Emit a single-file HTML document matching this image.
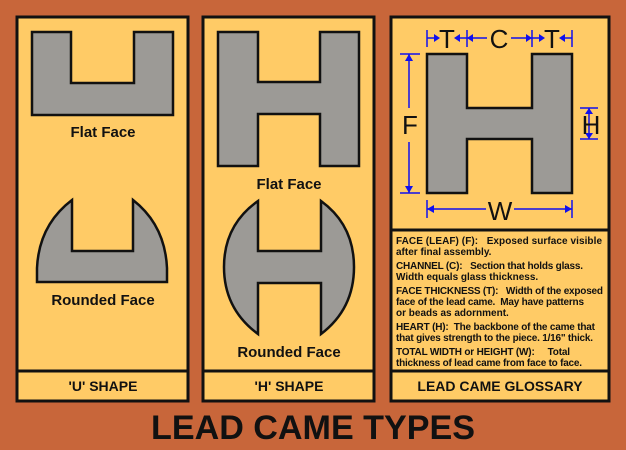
<!DOCTYPE html>
<html><head><meta charset="utf-8"><style>
html,body{margin:0;padding:0;background:#C8663A;}
svg{display:block}
text{font-family:"Liberation Sans",Arial,sans-serif;font-weight:bold;fill:#111;white-space:pre}
</style></head><body>
<svg width="626" height="450" viewBox="0 0 626 450" xmlns="http://www.w3.org/2000/svg" xml:space="preserve">
<rect x="0" y="0" width="626" height="450" fill="#C8663A"/>
<g fill="#FFCB66" stroke="#111" stroke-width="3">
<rect x="17" y="17" width="171" height="384"/>
<rect x="203" y="17" width="171" height="384"/>
<rect x="391" y="17" width="218" height="384"/>
</g>
<g stroke="#111" stroke-width="3">
<line x1="17" y1="371" x2="188" y2="371"/>
<line x1="203" y1="371" x2="374" y2="371"/>
<line x1="391" y1="371" x2="609" y2="371"/>
<line x1="391" y1="230" x2="609" y2="230"/>
</g>
<g fill="#9C9A96" stroke="#111" stroke-width="2.5" stroke-linejoin="miter">
<path d="M32 32 H71 V83 H134 V32 H173 V115 H32 Z"/>
<path d="M72 200 V251 H133 V200 Q165 225 167 268 V282 H37 V268 Q39 225 72 200 Z"/>
<path d="M218 32 H258 V82 H320 V32 H359 V166 H320 V114 H258 V166 H218 Z"/>
<path d="M258 201 V251 H321 V201 Q354 225 354 267 Q354 309 321 334 V283 H258 V334 Q224 309 224 267 Q224 225 258 201 Z"/>
<path d="M427 54 H467 V108 H532 V54 H572 V193 H532 V139 H467 V193 H427 Z"/>
</g>
<g font-size="15" text-anchor="middle">
<text x="103" y="137">Flat Face</text>
<text x="103" y="305">Rounded Face</text>
<text x="289" y="189">Flat Face</text>
<text x="289" y="357">Rounded Face</text>
<text x="103" y="391" font-size="14">'U' SHAPE</text>
<text x="289" y="391" font-size="14">'H' SHAPE</text>
<text x="500" y="391" font-size="14">LEAD CAME GLOSSARY</text>
</g>
<text x="313" y="439" font-size="34" text-anchor="middle" textLength="324" lengthAdjust="spacingAndGlyphs">LEAD CAME TYPES</text>
<g stroke="#1010ee" stroke-width="1.5" fill="none">
<line x1="427" y1="30" x2="427" y2="47"/><line x1="467" y1="30" x2="467" y2="47"/>
<line x1="532" y1="30" x2="532" y2="47"/><line x1="572" y1="30" x2="572" y2="47"/>
<line x1="427" y1="38" x2="434" y2="38"/><line x1="460" y1="38" x2="467" y2="38"/>
<line x1="467" y1="38" x2="487" y2="38"/><line x1="511" y1="38" x2="532" y2="38"/>
<line x1="532" y1="38" x2="539" y2="38"/><line x1="565" y1="38" x2="572" y2="38"/>
<line x1="400" y1="54" x2="420" y2="54"/><line x1="400" y1="193" x2="420" y2="193"/>
<line x1="409" y1="54" x2="409" y2="108"/><line x1="409" y1="142" x2="409" y2="193"/>
<line x1="580" y1="108" x2="598" y2="108"/><line x1="580" y1="139" x2="598" y2="139"/>
<line x1="589" y1="108" x2="589" y2="139"/>
<line x1="427" y1="200" x2="427" y2="218"/><line x1="572" y1="200" x2="572" y2="218"/>
<line x1="427" y1="209" x2="486" y2="209"/><line x1="514" y1="209" x2="572" y2="209"/>
</g>
<g fill="#1010ee">
<path d="M434 34 L440 38 L434 42Z"/><path d="M460 34 L454 38 L460 42Z"/>
<path d="M467 38 L473 34 L473 42Z"/><path d="M532 38 L526 34 L526 42Z"/>
<path d="M539 34 L545 38 L539 42Z"/><path d="M565 34 L559 38 L565 42Z"/>
<path d="M409 54 L405 61 L413 61Z"/><path d="M409 193 L405 186 L413 186Z"/>
<path d="M589 108 L585 114 L593 114Z"/><path d="M589 139 L585 133 L593 133Z"/>
<path d="M427 209 L434 205 L434 213Z"/><path d="M572 209 L565 205 L565 213Z"/>
</g>
<g font-size="26" text-anchor="middle">
<text x="447" y="48" style="font-weight:normal">T</text>
<text x="499" y="48" style="font-weight:normal">C</text>
<text x="552" y="48" style="font-weight:normal">T</text>
<text x="410" y="134" style="font-weight:normal">F</text>
<text x="591" y="134" style="font-weight:normal">H</text>
<text x="500" y="220" style="font-weight:normal">W</text>
</g>
<g font-size="10">
<text x="396" y="244" textLength="206" lengthAdjust="spacing">FACE (LEAF) (F):   Exposed surface visible</text>
<text x="396" y="255">after final assembly.</text>
<text x="396" y="269" textLength="187" lengthAdjust="spacing">CHANNEL (C):   Section that holds glass.</text>
<text x="396" y="280">Width equals glass thickness.</text>
<text x="396" y="294" textLength="207" lengthAdjust="spacing">FACE THICKNESS (T):   Width of the exposed</text>
<text x="396" y="305" textLength="188" lengthAdjust="spacing">face of the lead came.  May have patterns</text>
<text x="396" y="316">or beads as adornment.</text>
<text x="396" y="330" textLength="199" lengthAdjust="spacing">HEART (H):  The backbone of the came that</text>
<text x="396" y="341" textLength="197" lengthAdjust="spacing">that gives strength to the piece. 1/16" thick.</text>
<text x="396" y="355" textLength="174" lengthAdjust="spacing">TOTAL WIDTH or HEIGHT (W):     Total</text>
<text x="396" y="366" textLength="186" lengthAdjust="spacing">thickness of lead came from face to face.</text>
</g>
</svg>
</body></html>
